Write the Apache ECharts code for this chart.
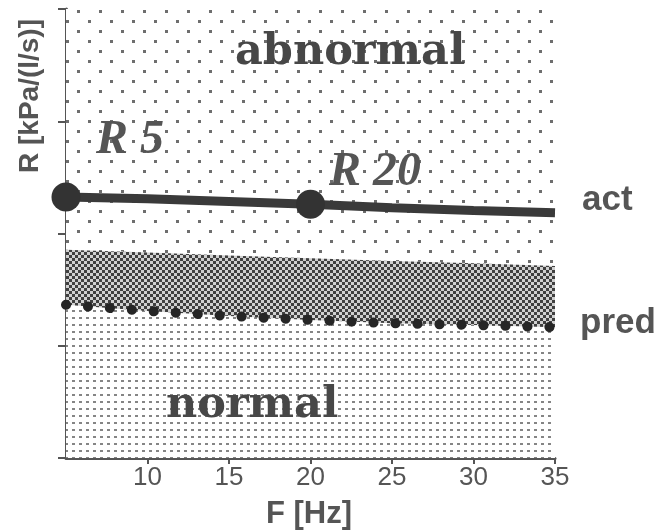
<!DOCTYPE html>
<html>
<head>
<meta charset="utf-8">
<script src="https://cdn.jsdelivr.net/npm/echarts@6/dist/echarts.min.js"></script>
<style>
html, body { margin: 0; padding: 0; background: #fff; }
#chart { width: 670px; height: 530px; }
</style>
</head>
<body>
<div id="chart"></div>
<script>
// frequencies (Hz) and curves (kPa/(l/s))
var freqs   = [5, 10, 15, 20, 25, 30, 35];
var actR    = [0.465, 0.462, 0.457, 0.452, 0.446, 0.441, 0.437];
var predR   = [0.273, 0.262, 0.253, 0.246, 0.240, 0.237, 0.233];
var upperR  = [0.371, 0.366, 0.361, 0.356, 0.351, 0.347, 0.342];
var markFreqs = [5, 20];
var markNames = ['R 5', 'R 20'];
var xTicks  = [10, 15, 20, 25, 30, 35];

function pairs(ys){
    var out = [];
    for (var i = 0; i < freqs.length; i++) {
        out.push([freqs[i], ys[i]]);
    }
    return out;
}

// small textures for the shaded regions
function makePattern(w, h, draw){
    var c = document.createElement('canvas');
    c.width = w; c.height = h;
    var ctx = c.getContext('2d');
    draw(ctx);
    return { image: c, repeat: 'repeat' };
}

var dotPattern = makePattern(22, 20, function(ctx){
    ctx.fillStyle = '#ffffff';
    ctx.fillRect(0, 0, 22, 20);
    ctx.fillStyle = '#6e6e6e';
    ctx.fillRect(0, 0, 3, 3);
    ctx.fillRect(11, 10, 3, 3);
});

var checkerPattern = makePattern(6, 6, function(ctx){
    ctx.fillStyle = '#d0d0d0';
    ctx.fillRect(0, 0, 6, 6);
    ctx.fillStyle = '#404040';
    ctx.fillRect(0, 0, 3, 3);
    ctx.fillRect(3, 3, 3, 3);
});

var gridPattern = makePattern(7, 7, function(ctx){
    ctx.fillStyle = '#ffffff';
    ctx.fillRect(0, 0, 7, 7);
    ctx.fillStyle = '#858585';
    ctx.fillRect(2, 2, 3, 2);
});

var markData = [];
for (var m = 0; m < markFreqs.length; m++) {
    markData.push([markFreqs[m], actR[freqs.indexOf(markFreqs[m])]]);
}

var axisColor = '#555';
var chart = echarts.init(document.getElementById('chart'));

chart.setOption({
    animation: false,
    backgroundColor: '#ffffff',
    grid: { left: 66, right: 115, top: 9, bottom: 72 },
    xAxis: {
        type: 'value',
        min: 5,
        max: 35,
        interval: 5,
        axisLine: { lineStyle: { color: axisColor, width: 3 } },
        axisTick: { customValues: xTicks, length: 6, lineStyle: { color: axisColor, width: 2 } },
        axisLabel: {
            customValues: xTicks,
            color: axisColor,
            fontFamily: 'Liberation Sans, Arial, sans-serif',
            fontSize: 26,
            margin: 7
        },
        splitLine: { show: false }
    },
    yAxis: {
        type: 'value',
        min: 0,
        max: 0.8,
        interval: 0.2,
        axisLine: { show: true, lineStyle: { color: axisColor, width: 3 } },
        axisTick: { show: true, length: 8, lineStyle: { color: axisColor, width: 2 } },
        axisLabel: { show: false },
        splitLine: { show: false }
    },
    series: [
        {
            name: 'abnormal',
            type: 'line',
            data: pairs(upperR),
            showSymbol: false,
            silent: true,
            z: 1,
            lineStyle: { width: 0 },
            areaStyle: { color: dotPattern, origin: 'end', opacity: 1 }
        },
        {
            name: 'band',
            type: 'line',
            data: pairs(upperR),
            showSymbol: false,
            silent: true,
            z: 2,
            lineStyle: { width: 0 },
            areaStyle: { color: checkerPattern, origin: 'start', opacity: 1 }
        },
        {
            name: 'normal',
            type: 'line',
            data: pairs(predR),
            showSymbol: false,
            silent: true,
            z: 3,
            lineStyle: { width: 0 },
            areaStyle: { color: gridPattern, origin: 'start', opacity: 1 }
        },
        {
            name: 'pred',
            type: 'line',
            data: pairs(predR),
            showSymbol: false,
            silent: true,
            z: 4,
            lineStyle: { color: '#262626', width: 10, type: [0.1, 21.9], cap: 'round' }
        },
        {
            name: 'act',
            type: 'line',
            data: pairs(actR),
            showSymbol: false,
            silent: true,
            z: 5,
            lineStyle: { color: '#3a3a3a', width: 9 }
        },
        {
            name: 'marks',
            type: 'scatter',
            data: markData,
            symbol: 'circle',
            symbolSize: 29,
            clip: false,
            silent: true,
            z: 6,
            itemStyle: { color: '#333333', opacity: 1 }
        }
    ],
    graphic: [
        {
            type: 'text', left: 235, top: 31, z: 10,
            style: { text: 'abnormal', fill: '#474747', font: 'bold 43px "DejaVu Serif", serif' }
        },
        {
            type: 'text', left: 166, top: 384, z: 10,
            style: { text: 'normal', fill: '#474747', font: 'bold 43px "DejaVu Serif", serif' }
        },
        {
            type: 'text', left: 96, top: 117, z: 10,
            style: { text: markNames[0], fill: '#555', font: 'italic bold 48px "Liberation Serif", serif' }
        },
        {
            type: 'text', left: 329, top: 149, z: 10,
            style: { text: markNames[1], fill: '#555', font: 'italic bold 48px "Liberation Serif", serif' }
        },
        {
            type: 'text', left: 582, top: 183, z: 10,
            style: { text: 'act', fill: '#555', font: 'bold 35px "Liberation Sans", Arial, sans-serif' }
        },
        {
            type: 'text', left: 580, top: 306, z: 10,
            style: { text: 'pred', fill: '#555', font: 'bold 35px "Liberation Sans", Arial, sans-serif' }
        },
        {
            type: 'text', left: 266, top: 499, z: 10,
            style: { text: 'F [Hz]', fill: '#555', font: 'bold 31px "Liberation Sans", Arial, sans-serif' }
        },
        {
            type: 'text', x: 30, y: 96, rotation: Math.PI / 2, z: 10,
            style: {
                text: 'R [kPa/(l/s)]', fill: '#555',
                font: 'bold 28px "Liberation Sans", Arial, sans-serif',
                align: 'center', verticalAlign: 'middle'
            }
        }
    ]
});
</script>
</body>
</html>
